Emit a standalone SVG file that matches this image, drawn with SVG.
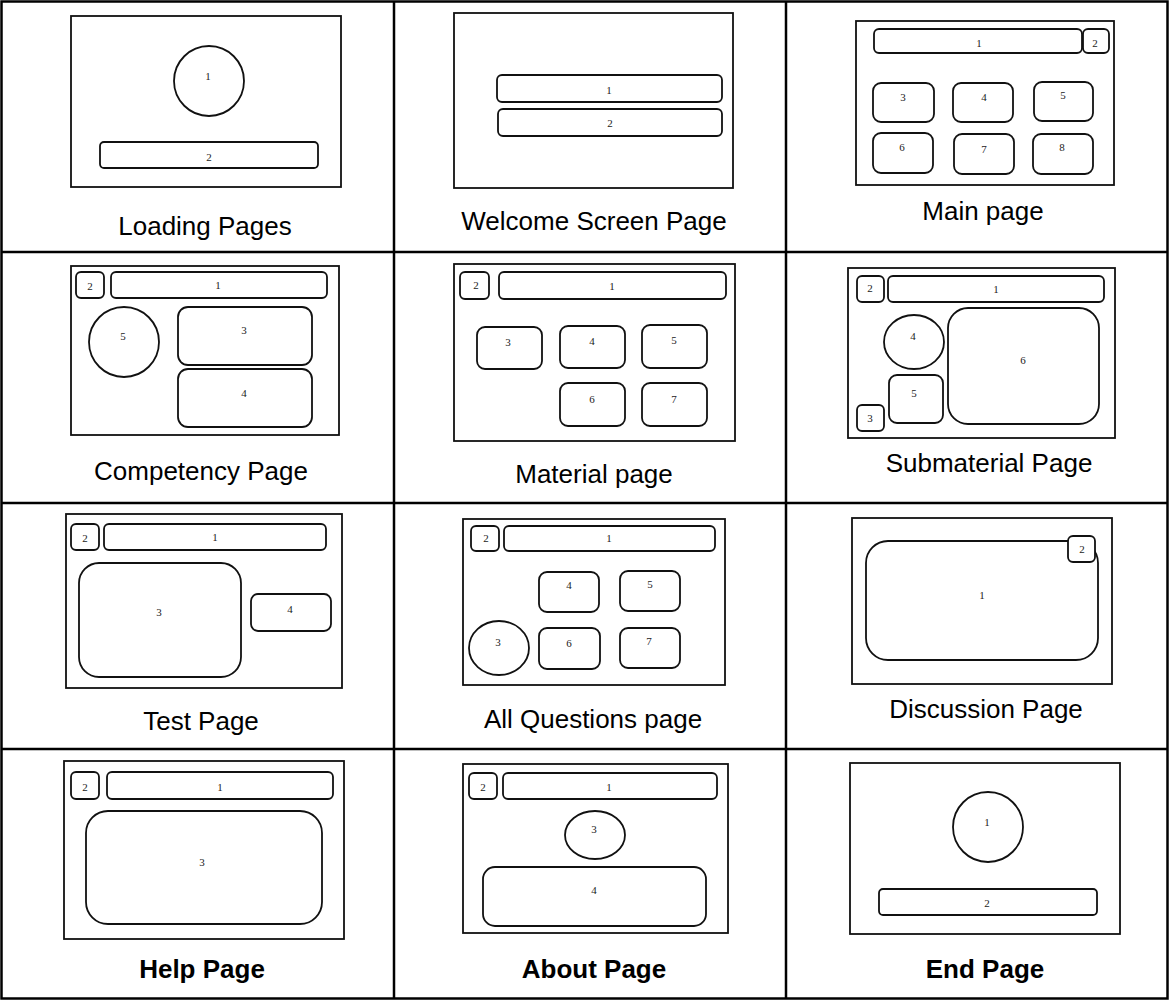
<svg xmlns="http://www.w3.org/2000/svg" width="1169" height="1000" viewBox="0 0 1169 1000">
<style>
.grid{stroke:#000;stroke-width:2.5;fill:none}
.frame{fill:#fff;stroke:#111;stroke-width:1.8}
.sh{fill:#fff;stroke:#111;stroke-width:1.8}
.num{font-family:"Liberation Serif","Times New Roman",serif;font-size:11px;fill:#222;text-anchor:middle}
.cap{font-family:"Liberation Sans",Arial,sans-serif;font-size:26px;fill:#000;text-anchor:middle}
.b{font-weight:bold}
</style>
<rect width="1169" height="1000" fill="#fff"/>
<g id="table">
<rect class="grid" x="1.5" y="1.5" width="1166" height="997"/>
<line class="grid" x1="394" y1="1.5" x2="394" y2="998.5"/>
<line class="grid" x1="786" y1="1.5" x2="786" y2="998.5"/>
<line class="grid" x1="1.5" y1="252" x2="1167.5" y2="252"/>
<line class="grid" x1="1.5" y1="503" x2="1167.5" y2="503"/>
<line class="grid" x1="1.5" y1="749" x2="1167.5" y2="749"/>
</g>

<g id="loading">
<rect class="frame" x="71" y="16" width="270" height="171"/>
<circle class="sh" cx="209" cy="81" r="35"/>
<text class="num" x="208" y="80">1</text>
<rect class="sh" x="100" y="142" width="218" height="26" rx="4"/>
<text class="num" x="209" y="161">2</text>
<text class="cap" x="205" y="235">Loading Pages</text>
</g>

<g id="welcome">
<rect class="frame" x="454" y="13" width="279" height="175"/>
<rect class="sh" x="497" y="75" width="225" height="27" rx="5"/>
<text class="num" x="609" y="94">1</text>
<rect class="sh" x="498" y="109" width="224" height="27" rx="5"/>
<text class="num" x="610" y="127">2</text>
<text class="cap" x="594" y="230">Welcome Screen Page</text>
</g>

<g id="main">
<rect class="frame" x="856" y="21" width="258" height="164"/>
<rect class="sh" x="874" y="29" width="208" height="24" rx="5"/>
<text class="num" x="979" y="47">1</text>
<rect class="sh" x="1083" y="29" width="26" height="24" rx="5"/>
<text class="num" x="1095" y="47">2</text>
<rect class="sh" x="873" y="83" width="61" height="39" rx="8"/>
<text class="num" x="903" y="101">3</text>
<rect class="sh" x="953" y="83" width="60" height="39" rx="8"/>
<text class="num" x="984" y="101">4</text>
<rect class="sh" x="1034" y="82" width="59" height="39" rx="8"/>
<text class="num" x="1063" y="99">5</text>
<rect class="sh" x="873" y="133" width="60" height="40" rx="8"/>
<text class="num" x="902" y="151">6</text>
<rect class="sh" x="954" y="134" width="60" height="40" rx="8"/>
<text class="num" x="984" y="153">7</text>
<rect class="sh" x="1033" y="134" width="60" height="40" rx="8"/>
<text class="num" x="1062" y="151">8</text>
<text class="cap" x="983" y="220">Main page</text>
</g>

<g id="competency">
<rect class="frame" x="71" y="266" width="268" height="169"/>
<rect class="sh" x="76" y="272" width="28" height="26" rx="5"/>
<text class="num" x="90" y="290">2</text>
<rect class="sh" x="111" y="272" width="216" height="26" rx="5"/>
<text class="num" x="218" y="289">1</text>
<circle class="sh" cx="124" cy="342" r="35"/>
<text class="num" x="123" y="340">5</text>
<rect class="sh" x="178" y="307" width="134" height="58" rx="10"/>
<text class="num" x="244" y="334">3</text>
<rect class="sh" x="178" y="369" width="134" height="58" rx="10"/>
<text class="num" x="244" y="397">4</text>
<text class="cap" x="201" y="480">Competency Page</text>
</g>

<g id="material">
<rect class="frame" x="454" y="264" width="281" height="177"/>
<rect class="sh" x="460" y="272" width="29" height="27" rx="5"/>
<text class="num" x="476" y="289">2</text>
<rect class="sh" x="499" y="272" width="227" height="27" rx="5"/>
<text class="num" x="612" y="290">1</text>
<rect class="sh" x="477" y="327" width="65" height="42" rx="8"/>
<text class="num" x="508" y="346">3</text>
<rect class="sh" x="560" y="326" width="65" height="42" rx="8"/>
<text class="num" x="592" y="345">4</text>
<rect class="sh" x="642" y="325" width="65" height="43" rx="8"/>
<text class="num" x="674" y="344">5</text>
<rect class="sh" x="560" y="383" width="65" height="43" rx="8"/>
<text class="num" x="592" y="403">6</text>
<rect class="sh" x="642" y="383" width="65" height="43" rx="8"/>
<text class="num" x="674" y="403">7</text>
<text class="cap" x="594" y="483">Material page</text>
</g>

<g id="submaterial">
<rect class="frame" x="848" y="268" width="267" height="170"/>
<rect class="sh" x="857" y="276" width="27" height="26" rx="5"/>
<text class="num" x="870" y="292">2</text>
<rect class="sh" x="888" y="276" width="216" height="26" rx="5"/>
<text class="num" x="996" y="293">1</text>
<ellipse class="sh" cx="914" cy="342" rx="30" ry="27"/>
<text class="num" x="913" y="340">4</text>
<rect class="sh" x="889" y="375" width="54" height="48" rx="8"/>
<text class="num" x="914" y="397">5</text>
<rect class="sh" x="857" y="405" width="27" height="26" rx="5"/>
<text class="num" x="870" y="422">3</text>
<rect class="sh" x="948" y="308" width="151" height="116" rx="20"/>
<text class="num" x="1023" y="364">6</text>
<text class="cap" x="989" y="472">Submaterial Page</text>
</g>

<g id="test">
<rect class="frame" x="66" y="514" width="276" height="174"/>
<rect class="sh" x="71" y="524" width="28" height="26" rx="5"/>
<text class="num" x="85" y="542">2</text>
<rect class="sh" x="104" y="524" width="222" height="26" rx="5"/>
<text class="num" x="215" y="541">1</text>
<rect class="sh" x="79" y="563" width="162" height="114" rx="20"/>
<text class="num" x="159" y="616">3</text>
<rect class="sh" x="251" y="594" width="80" height="37" rx="7"/>
<text class="num" x="290" y="613">4</text>
<text class="cap" x="201" y="730">Test Page</text>
</g>

<g id="allquestions">
<rect class="frame" x="463" y="519" width="262" height="166"/>
<rect class="sh" x="471" y="526" width="28" height="25" rx="5"/>
<text class="num" x="486" y="542">2</text>
<rect class="sh" x="504" y="526" width="211" height="25" rx="5"/>
<text class="num" x="609" y="542">1</text>
<rect class="sh" x="539" y="572" width="60" height="40" rx="8"/>
<text class="num" x="569" y="589">4</text>
<rect class="sh" x="620" y="571" width="60" height="40" rx="8"/>
<text class="num" x="650" y="588">5</text>
<ellipse class="sh" cx="499" cy="648" rx="30" ry="27"/>
<text class="num" x="498" y="646">3</text>
<rect class="sh" x="539" y="628" width="61" height="41" rx="8"/>
<text class="num" x="569" y="647">6</text>
<rect class="sh" x="620" y="628" width="60" height="40" rx="8"/>
<text class="num" x="649" y="645">7</text>
<text class="cap" x="593" y="728">All Questions page</text>
</g>

<g id="discussion">
<rect class="frame" x="852" y="518" width="260" height="166"/>
<rect class="sh" x="866" y="541" width="232" height="119" rx="22"/>
<text class="num" x="982" y="599">1</text>
<rect class="sh" x="1068" y="536" width="27" height="26" rx="5"/>
<text class="num" x="1082" y="553">2</text>
<text class="cap" x="986" y="718">Discussion Page</text>
</g>

<g id="help">
<rect class="frame" x="64" y="761" width="280" height="178"/>
<rect class="sh" x="71" y="772" width="28" height="27" rx="5"/>
<text class="num" x="85" y="791">2</text>
<rect class="sh" x="107" y="772" width="226" height="27" rx="5"/>
<text class="num" x="220" y="791">1</text>
<rect class="sh" x="86" y="811" width="236" height="113" rx="22"/>
<text class="num" x="202" y="866">3</text>
<text class="cap b" x="202" y="978">Help Page</text>
</g>

<g id="about">
<rect class="frame" x="463" y="764" width="265" height="169"/>
<rect class="sh" x="469" y="773" width="28" height="26" rx="5"/>
<text class="num" x="483" y="791">2</text>
<rect class="sh" x="503" y="773" width="214" height="26" rx="5"/>
<text class="num" x="609" y="791">1</text>
<ellipse class="sh" cx="595" cy="835" rx="30" ry="24"/>
<text class="num" x="594" y="833">3</text>
<rect class="sh" x="483" y="867" width="223" height="59" rx="12"/>
<text class="num" x="594" y="894">4</text>
<text class="cap b" x="594" y="978">About Page</text>
</g>

<g id="end">
<rect class="frame" x="850" y="763" width="270" height="171"/>
<circle class="sh" cx="988" cy="827" r="35"/>
<text class="num" x="987" y="826">1</text>
<rect class="sh" x="879" y="889" width="218" height="26" rx="4"/>
<text class="num" x="987" y="907">2</text>
<text class="cap b" x="985" y="978">End Page</text>
</g>
</svg>
